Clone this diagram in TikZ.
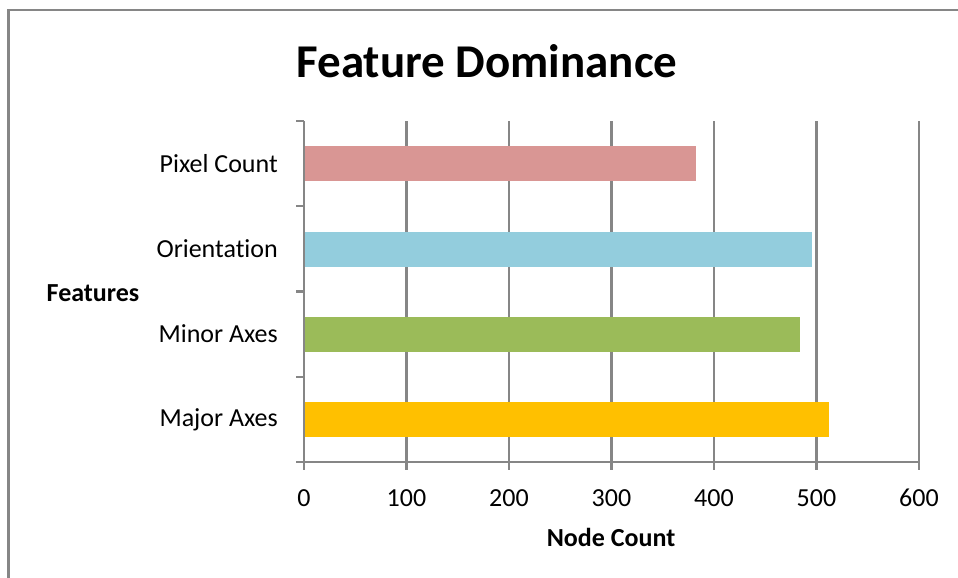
\documentclass[tikz,border=0pt]{standalone}
\usepackage{fontspec}
\setmainfont{Carlito}[RawFeature=-liga]
\usetikzlibrary{positioning}

\definecolor{gridgray}{HTML}{868686}
\definecolor{pixelbar}{HTML}{D99694}
\definecolor{orientbar}{HTML}{93CDDD}
\definecolor{minorbar}{HTML}{9BBB59}
\definecolor{majorbar}{HTML}{FFC000}

\tikzset{
  axisline/.style={draw=gridgray, line width=2.2pt},
  catlabel/.style={anchor=east, font=\fontsize{26}{30}\selectfont, inner sep=0pt},
  ticklabel/.style={font=\fontsize{26}{30}\selectfont, inner sep=0pt},
  axistitle/.style={font=\fontsize{26}{30}\selectfont\bfseries, inner sep=0pt},
}

\begin{document}
\begin{tikzpicture}[x=1pt,y=-1pt]
  \def \xo {304}
  \def \u {1.025}
  \def \top {121}
  \def \bot {462}
  \useasboundingbox (0,0) rectangle (958,578);

  % outer frame, only left and top edge show
  \draw[draw=gridgray, line width=2.3pt] (8.5,578) -- (8.5,10) -- (958,10);

  % grid and axes
  \foreach \v in {1,...,6}
    \draw[axisline] ({\xo+100*\v*\u},\top) -- ({\xo+100*\v*\u},\bot+8);
  \draw[axisline] (\xo,\top) -- (\xo,\bot+8);
  \draw[axisline] (\xo-8,\bot) -- ({\xo+600*\u},\bot);
  \foreach \y in {121,206.25,291.5,376.75}
    \draw[axisline] (\xo-8,\y) -- (\xo,\y);

  % bars
  \fill[pixelbar]  (\xo+1,146) rectangle ({\xo+382*\u},181);
  \fill[orientbar] (\xo+1,232) rectangle ({\xo+496*\u},267);
  \fill[minorbar]  (\xo+1,317) rectangle ({\xo+484*\u},352);
  \fill[majorbar]  (\xo+1,402) rectangle ({\xo+512*\u},437);

  % labels
  \node[font=\fontsize{47}{51}\selectfont\bfseries, inner sep=0pt] (title) at (487,61) {Feature Dominance};
  \node[catlabel] (pixel) at (278,163.5) {Pixel Count};
  \node[catlabel] (orient) at (278,248.5) {Orientation};
  \node[catlabel] (minor) at (278,334) {Minor Axes};
  \node[catlabel] (major) at (278,419.5) {Major Axes};
  \node[axistitle] (features) at (93,293) {Features};
  \node[axistitle] (nodecount) at (611,537) {Node Count};
  \foreach \v in {0,...,6}
    \node[ticklabel] (tick\v) at ({\xo+100*\v*\u},498) {\the\numexpr\v*100\relax};

\end{tikzpicture}
\end{document}
